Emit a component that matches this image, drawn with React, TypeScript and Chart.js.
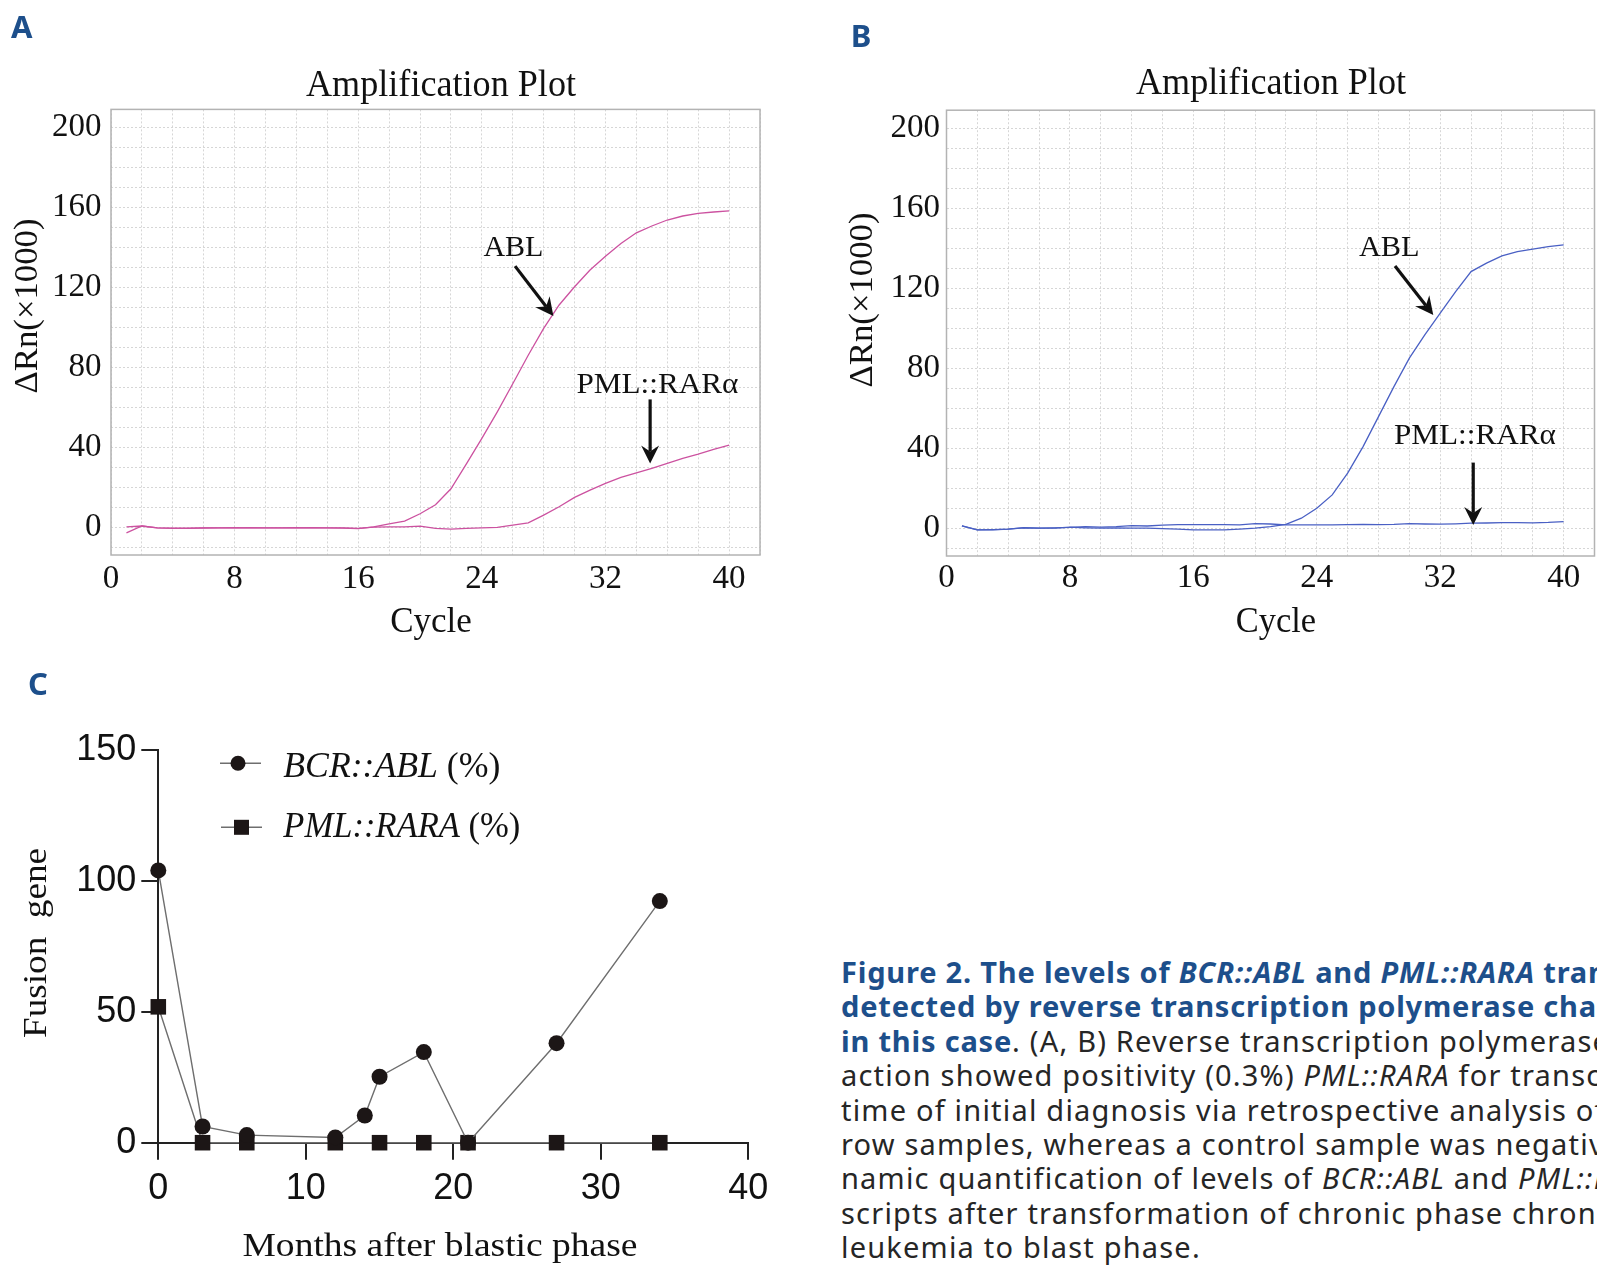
import React, { useEffect, useRef } from "react";
import { Chart, registerables } from "chart.js";

Chart.register(...registerables);

// ---------- data ----------
const CYCLES = [1, 2, 3, 4, 5, 6, 7, 8, 9, 10, 11, 12, 13, 14, 15, 16, 17, 18, 19, 20, 21, 22, 23, 24, 25, 26, 27, 28, 29, 30, 31, 32, 33, 34, 35, 36, 37, 38, 39, 40];

const A_ABL = [-2.5, 0.9, 0, -0.3, -0.2, 0, 0, 0.1, 0, 0, 0, 0.1, 0, 0, -0.2, -0.4, 0.5, 2.0, 3.3, 7, 11.5, 19.5, 32, 44.7, 58, 72, 86.3, 99.7, 111.4, 120.5, 128.9, 135.8, 142.2, 147.5, 150.9, 153.9, 155.9, 157.2, 157.9, 158.5];
const A_PML = [0.5, 0.9, 0, -0.2, -0.3, -0.1, 0, 0, 0.1, 0, 0, 0, 0.1, 0, 0, -0.3, 0.3, 0.5, 0.5, 0.85, -0.3, -0.65, -0.3, 0, 0.2, 1.35, 2.5, 6.35, 10.5, 15.2, 18.85, 22.2, 25.2, 27.5, 29.7, 32.2, 34.7, 36.85, 39.2, 41.35];

const B_ABL = [1.25, -0.75, -0.75, -0.4, 0.4, 0.1, 0.1, 0.6, 0.3, 0.1, 0.3, 0.1, 0.1, -0.1, -0.4, -0.75, -0.75, -0.75, -0.4, 0.1, 0.9, 2.0, 5.1, 10.1, 16.75, 27.6, 40.9, 55.9, 70.9, 85.1, 96.75, 107.6, 118.4, 128.4, 132.6, 136.25, 138.4, 139.6, 140.9, 141.75];
const B_PML = [1.25, -0.75, -0.6, -0.4, 0.3, 0.1, 0.3, 0.5, 0.9, 0.6, 0.9, 1.4, 1.2, 1.6, 1.9, 1.9, 1.9, 1.9, 1.75, 2.4, 2.2, 1.8, 1.75, 1.75, 1.8, 1.9, 2.0, 1.9, 2.0, 2.4, 2.2, 2.1, 2.3, 2.6, 2.7, 2.9, 2.9, 2.8, 3.0, 3.4];

const AMP_X_LABELS = [0, 8, 16, 24, 32, 40];
const AMP_Y_LABELS = [0, 40, 80, 120, 160, 200];

const MONTHS_BCR = [0, 3, 6, 12, 14, 15, 18, 21, 27, 34];
const BCR_ABL = [104, 6.2, 2.9, 2.0, 10.4, 25.2, 34.6, 0, 38, 92.3];
const MONTHS_PML = [0, 3, 6, 12, 15, 18, 21, 27, 34];
const PML_RARA = [51.9, 0, 0, 0, 0, 0, 0, 0, 0];

const C_SERIES_LABELS = ["BCR::ABL", "PML::RARA"];

// ---------- styles ----------
const SERIF = "'Liberation Serif', 'Times New Roman', serif";
const SANS = "'Liberation Sans', Arial, sans-serif";
const NOTO = "'Noto Sans', sans-serif";
const LABEL_BLUE = "#1d4f8b";
const PINK = "#cc52a0";
const BLUE = "#4a60c4";
const INK = "#111111";

type Pt = [number, number];
type Note = { text: string; at: Pt; w: number; from: Pt; to: Pt };

function fitText(
  ctx: CanvasRenderingContext2D,
  text: string,
  x: number,
  y: number,
  font: string,
  width: number | null,
  baseline: CanvasTextBaseline,
  rotate = false,
  align: CanvasTextAlign = "center"
) {
  ctx.save();
  ctx.font = font;
  const w = ctx.measureText(text).width;
  const s = width ? width / w : 1;
  ctx.translate(x, y);
  if (rotate) ctx.rotate(-Math.PI / 2);
  ctx.scale(s, 1);
  ctx.textAlign = align;
  ctx.textBaseline = baseline;
  ctx.fillText(text, 0, 0);
  ctx.restore();
}

function mixedText(
  ctx: CanvasRenderingContext2D,
  parts: [string, string][],
  x: number,
  y: number,
  width: number
) {
  ctx.save();
  let total = 0;
  const ws = parts.map(([t, f]) => {
    ctx.font = f;
    const w = ctx.measureText(t).width;
    total += w;
    return w;
  });
  const s = width / total;
  ctx.translate(x, y);
  ctx.scale(s, 1);
  ctx.textAlign = "left";
  ctx.textBaseline = "alphabetic";
  let cx = 0;
  parts.forEach(([t, f], i) => {
    ctx.font = f;
    ctx.fillText(t, cx, 0);
    cx += ws[i];
  });
  ctx.restore();
}

function arrow(ctx: CanvasRenderingContext2D, x1: number, y1: number, x2: number, y2: number) {
  const ang = Math.atan2(y2 - y1, x2 - x1);
  const c = Math.cos(ang), s = Math.sin(ang);
  const headLen = 18, headW = 9, notch = 6;
  ctx.save();
  ctx.strokeStyle = INK;
  ctx.fillStyle = INK;
  ctx.lineWidth = 3.2;
  ctx.beginPath();
  ctx.moveTo(x1, y1);
  ctx.lineTo(x2 - c * (headLen - notch), y2 - s * (headLen - notch));
  ctx.stroke();
  const bx = x2 - c * headLen, by = y2 - s * headLen;
  ctx.beginPath();
  ctx.moveTo(x2, y2);
  ctx.lineTo(bx - s * headW, by + c * headW);
  ctx.lineTo(x2 - c * (headLen - notch), y2 - s * (headLen - notch));
  ctx.lineTo(bx + s * headW, by - c * headW);
  ctx.closePath();
  ctx.fill();
  ctx.restore();
}

type AmpOpts = {
  abl: number[];
  pml: number[];
  color: string;
  w: number;
  h: number;
  area: { left: number; top: number; right: number; bottom: number };
  yMin: number;
  yMax: number;
  xMax: number;
  yPad: number;
  xPad: number;
  title: Pt;
  xlab: [number, number, number];
  ylab: Pt;
  notes: Note[];
  panel: string;
  panelPos: Pt;
};

function ampConfig(o: AmpOpts): any {
  const decor = {
    id: "ampDecor",
    afterDraw(chart: any) {
      const { ctx, chartArea: a } = chart;
      const xs = chart.scales.x, ys = chart.scales.y;
      ctx.save();
      ctx.strokeStyle = "#b3b3b3";
      ctx.lineWidth = 1.5;
      ctx.strokeRect(a.left, a.top, a.right - a.left, a.bottom - a.top);
      ctx.fillStyle = INK;
      fitText(ctx, "Amplification Plot", o.title[0], o.title[1], `37px ${SERIF}`, 270, "alphabetic");
      fitText(ctx, "Cycle", o.xlab[0], o.xlab[1], `36px ${SERIF}`, o.xlab[2], "alphabetic");
      fitText(ctx, "ΔRn(×1000)", o.ylab[0], o.ylab[1], `33px ${SERIF}`, 175, "alphabetic", true);
      for (const n of o.notes) {
        fitText(ctx, n.text, xs.getPixelForValue(n.at[0]), ys.getPixelForValue(n.at[1]), `30px ${SERIF}`, n.w, "middle");
        arrow(
          ctx,
          xs.getPixelForValue(n.from[0]),
          ys.getPixelForValue(n.from[1]),
          xs.getPixelForValue(n.to[0]),
          ys.getPixelForValue(n.to[1])
        );
      }
      ctx.fillStyle = LABEL_BLUE;
      ctx.font = `bold 31px ${NOTO}`;
      ctx.textAlign = "left";
      ctx.textBaseline = "alphabetic";
      ctx.fillText(o.panel, o.panelPos[0], o.panelPos[1]);
      ctx.restore();
    },
  };
  const tickFont = { family: SERIF, size: 33 };
  return {
    type: "line",
    data: {
      datasets: [
        { label: "ABL", data: CYCLES.map((c, i) => ({ x: c, y: o.abl[i] })) },
        { label: "PML::RARα", data: CYCLES.map((c, i) => ({ x: c, y: o.pml[i] })) },
      ].map((d) => ({ ...d, borderColor: o.color, borderWidth: 1.3, pointRadius: 0, tension: 0, fill: false })),
    },
    options: {
      responsive: false,
      animation: false,
      devicePixelRatio: 1,
      layout: { padding: { top: o.area.top, right: o.w - o.area.right, left: 0, bottom: 0 } },
      plugins: { legend: { display: false }, title: { display: false }, tooltip: { enabled: false } },
      scales: {
        x: {
          type: "linear",
          min: 0,
          max: o.xMax,
          afterFit: (s: any) => {
            s.height = o.h - o.area.bottom;
          },
          ticks: {
            stepSize: 2,
            includeBounds: false,
            autoSkip: false,
            maxRotation: 0,
            minRotation: 0,
            padding: o.xPad,
            color: INK,
            font: tickFont,
            callback: (v: any) => (AMP_X_LABELS.includes(Number(v)) ? String(v) : ""),
          },
          grid: { color: "#d6d6d6", lineWidth: 1, drawTicks: false },
          border: { display: false, dash: [2, 2] },
        },
        y: {
          type: "linear",
          min: o.yMin,
          max: o.yMax,
          afterFit: (s: any) => {
            s.width = o.area.left;
          },
          ticks: {
            stepSize: 10,
            includeBounds: false,
            autoSkip: false,
            padding: o.yPad,
            color: INK,
            font: tickFont,
            callback: (v: any) => (AMP_Y_LABELS.includes(Number(v)) ? String(v) : ""),
          },
          grid: { color: "#d6d6d6", lineWidth: 1, drawTicks: false },
          border: { display: false, dash: [2, 2] },
        },
      },
    },
    plugins: [decor],
  };
}

function configA() {
  return ampConfig({
    abl: A_ABL,
    pml: A_PML,
    color: PINK,
    w: 800,
    h: 650,
    area: { left: 111, top: 109.4, right: 760, bottom: 555 },
    yMin: -13.6,
    yMax: 209.2,
    xMax: 42,
    yPad: 9.5,
    xPad: 5,
    title: [441, 96],
    xlab: [431, 632, 81.6],
    ylab: [36.5, 306],
    notes: [
      { text: "ABL", at: [26.04, 139.7], w: 60, from: [26.15, 130.85], to: [28.63, 105.85] },
      { text: "PML::RARα", at: [35.36, 71.35], w: 162, from: [34.89, 64.2], to: [34.89, 32.2] },
    ],
    panel: "A",
    panelPos: [11, 37.5],
  });
}

function configB() {
  return ampConfig({
    abl: B_ABL,
    pml: B_PML,
    color: BLUE,
    w: 797,
    h: 650,
    area: { left: 146.5, top: 110.2, right: 795.5, bottom: 556 },
    yMin: -13.8,
    yMax: 209.1,
    xMax: 42,
    yPad: 6.5,
    xPad: 2.5,
    title: [471, 94],
    xlab: [476, 632, 80.3],
    ylab: [72, 300],
    notes: [
      { text: "ABL", at: [28.7, 140.1], w: 60.7, from: [29.07, 131.25], to: [31.55, 106.75] },
      { text: "PML::RARα", at: [34.25, 45.9], w: 162, from: [34.14, 32.9], to: [34.14, 1.75] },
    ],
    panel: "B",
    panelPos: [50.7, 47],
  });
}

function configC(): any {
  const W = 800, H = 615;
  const area = { left: 158.3, top: 100, right: 748.3, bottom: 492.7 };
  const markerColor = "#1c1616";
  const legendRows = [
    { y: 113.3, x1: 220, x2: 261, mx: 238, base: 126.7, w: 217 },
    { y: 177.3, x1: 221, x2: 262, mx: 241.5, base: 186.7, w: 237 },
  ];
  const decor = {
    id: "cDecor",
    afterDraw(chart: any) {
      const ctx: CanvasRenderingContext2D = chart.ctx;
      ctx.save();
      chart.data.datasets.forEach((ds: any, i: number) => {
        const r = legendRows[i];
        ctx.strokeStyle = "#6e6e6e";
        ctx.lineWidth = 1.4;
        ctx.beginPath();
        ctx.moveTo(r.x1, r.y);
        ctx.lineTo(r.x2, r.y);
        ctx.stroke();
        ctx.fillStyle = markerColor;
        if (ds.pointStyle === "rect") {
          ctx.fillRect(r.mx - 7.5, r.y - 7.5, 15, 15);
        } else {
          ctx.beginPath();
          ctx.arc(r.mx, r.y, 7.5, 0, Math.PI * 2);
          ctx.fill();
        }
        ctx.fillStyle = INK;
        mixedText(
          ctx,
          [
            [ds.label, `italic 35px ${SERIF}`],
            [" (%)", `35px ${SERIF}`],
          ],
          283.3,
          r.base,
          r.w
        );
      });
      ctx.fillStyle = INK;
      fitText(ctx, "Months after blastic phase", 440, 605.9, `33px ${SERIF}`, 395, "alphabetic");
      fitText(ctx, "Fusion  gene", 46.1, 293, `33px ${SERIF}`, 190, "alphabetic", true);
      ctx.fillStyle = LABEL_BLUE;
      ctx.font = `bold 31px ${NOTO}`;
      ctx.textAlign = "left";
      ctx.textBaseline = "alphabetic";
      ctx.fillText("C", 28, 45);
      ctx.restore();
    },
  };
  const axisCommon = {
    grid: {
      display: true,
      drawOnChartArea: false,
      drawTicks: true,
      tickLength: 17,
      tickWidth: 2,
      tickColor: "#222",
      color: "#222",
      lineWidth: 2,
    },
    border: { display: true, color: "#222", width: 2 },
  };
  const tickFont = { family: SANS, size: 36 };
  const lineStyle = {
    borderColor: "#6e6e6e",
    borderWidth: 1.4,
    pointBackgroundColor: markerColor,
    pointBorderColor: markerColor,
    pointBorderWidth: 0,
    tension: 0,
    fill: false,
    clip: false,
  };
  return {
    type: "line",
    data: {
      datasets: [
        {
          ...lineStyle,
          label: C_SERIES_LABELS[0],
          data: MONTHS_BCR.map((m, i) => ({ x: m, y: BCR_ABL[i] })),
          pointStyle: "circle",
          pointRadius: 8,
        },
        {
          ...lineStyle,
          label: C_SERIES_LABELS[1],
          data: MONTHS_PML.map((m, i) => ({ x: m, y: PML_RARA[i] })),
          pointStyle: "rect",
          pointRadius: 11,
        },
      ],
    },
    options: {
      responsive: false,
      animation: false,
      devicePixelRatio: 1,
      layout: { padding: { top: area.top, right: W - area.right, left: 0, bottom: 0 } },
      plugins: { legend: { display: false }, title: { display: false }, tooltip: { enabled: false } },
      scales: {
        x: {
          type: "linear",
          min: 0,
          max: 40,
          afterFit: (s: any) => {
            s.height = H - area.bottom;
          },
          ticks: { stepSize: 10, padding: 8, maxRotation: 0, color: INK, font: tickFont },
          ...axisCommon,
        },
        y: {
          type: "linear",
          min: 0,
          max: 150,
          afterFit: (s: any) => {
            s.width = area.left;
          },
          ticks: { stepSize: 50, padding: 5, color: INK, font: tickFont },
          ...axisCommon,
        },
      },
    },
    plugins: [decor],
  };
}

function ChartCanvas(props: { x: number; y: number; w: number; h: number; make: () => any }) {
  const ref = useRef<HTMLCanvasElement | null>(null);
  useEffect(() => {
    const chart = new Chart(ref.current as HTMLCanvasElement, props.make());
    return () => chart.destroy();
  }, []);
  return (
    <canvas
      ref={ref}
      width={props.w}
      height={props.h}
      style={{ position: "absolute", left: props.x, top: props.y, width: props.w, height: props.h }}
    />
  );
}

const boldStyle: React.CSSProperties = { color: LABEL_BLUE, fontWeight: 700, letterSpacing: "0.8px" };

export default function App() {
  return (
    <div
      style={{
        position: "absolute",
        left: 0,
        top: 0,
        width: 1597,
        height: 1265,
        overflow: "hidden",
        background: "#ffffff",
      }}
    >
      <ChartCanvas x={0} y={0} w={800} h={650} make={configA} />
      <ChartCanvas x={800} y={0} w={797} h={650} make={configB} />
      <ChartCanvas x={0} y={650} w={800} h={615} make={configC} />
      <div
        style={{
          position: "absolute",
          left: 841,
          top: 955,
          width: 756,
          overflow: "hidden",
          whiteSpace: "nowrap",
          fontFamily: NOTO,
          fontSize: 29,
          lineHeight: "34.4px",
          color: "#262626",
          letterSpacing: "1.2px",
        }}
      >
        <div style={boldStyle}>
          Figure 2. The levels of <i>BCR::ABL</i> and <i>PML::RARA</i> transcripts
        </div>
        <div style={boldStyle}>detected by reverse transcription polymerase chain reaction</div>
        <div>
          <span style={boldStyle}>in this case</span>. (A, B) Reverse transcription polymerase chain
        </div>
        <div>
          action showed positivity (0.3%) <i>PML::RARA</i> for transcripts at the
        </div>
        <div>time of initial diagnosis via retrospective analysis of bone</div>
        <div>row samples, whereas a control sample was negative. (C)</div>
        <div>
          namic quantification of levels of <i>BCR::ABL</i> and <i>PML::RARA</i>
        </div>
        <div>scripts after transformation of chronic phase chronic myeloid</div>
        <div>leukemia to blast phase.</div>
      </div>
    </div>
  );
}
